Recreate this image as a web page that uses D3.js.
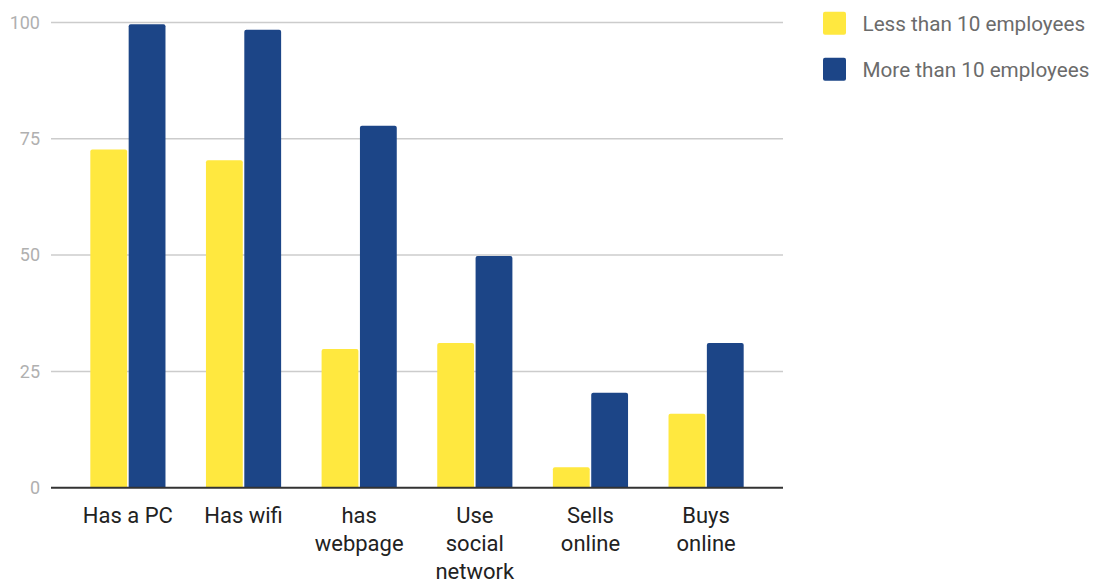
<!DOCTYPE html>
<html>
<head>
<meta charset="utf-8">
<script src="https://cdn.jsdelivr.net/npm/d3@7"></script>
<style>
  html, body { margin: 0; padding: 0; background: #fff; }
  svg { display: block; font-family: Roboto, "Noto Sans", sans-serif; }
</style>
</head>
<body>
<svg id="chart" width="1097" height="582"></svg>
<script>
// Share of companies using each digital tool, by company size (%)
const categories = [
  ["Has a PC"],
  ["Has wifi"],
  ["has", "webpage"],
  ["Use", "social", "network"],
  ["Sells", "online"],
  ["Buys", "online"]
];
const seriesNames = ["Less than 10 employees", "More than 10 employees"];
const lessThan10 = [72.7, 70.4, 29.8, 31.1, 4.4, 15.9];
const moreThan10 = [99.6, 98.4, 77.8, 49.8, 20.4, 31.1];
const yTicks = [0, 25, 50, 75, 100];
const colors = ["#ffe83f", "#1c4587"];

const svg = d3.select("#chart");
const plot = { left: 51, right: 783, top: 22.4, bottom: 487.7 };

const keys = categories.map(c => c.join(" "));
const rows = keys.map((k, i) => ({ key: k, values: [lessThan10[i], moreThan10[i]] }));

const x0 = d3.scaleBand()
  .domain(keys)
  .range([plot.left, plot.right])
  .paddingInner(0.35)
  .paddingOuter(0.34);

const x1 = d3.scaleBand()
  .domain([0, 1])
  .range([0, x0.bandwidth()])
  .paddingInner(0.04);

const y = d3.scaleLinear()
  .domain([0, 100])
  .range([plot.bottom, plot.top]);

// gridlines
svg.append("g")
  .selectAll("line")
  .data(yTicks.filter(t => t > 0))
  .join("line")
  .attr("x1", plot.left)
  .attr("x2", plot.right)
  .attr("y1", d => y(d))
  .attr("y2", d => y(d))
  .attr("stroke", "#cccccc")
  .attr("stroke-width", 1.5);

// y axis labels
const yAxis = svg.append("g")
  .attr("transform", `translate(${plot.left},0)`)
  .call(d3.axisLeft(y).tickValues(yTicks).tickSize(0).tickPadding(11));
yAxis.select(".domain").remove();
yAxis.selectAll("text")
  .attr("fill", "#b0b0b0")
  .style("font-size", "18px")
  .style("font-family", "Roboto, sans-serif");

// bars
const groups = svg.append("g")
  .selectAll("g")
  .data(rows)
  .join("g")
  .attr("transform", d => `translate(${x0(d.key)},0)`);

groups.selectAll("path")
  .data(d => d.values.map((v, i) => ({ i, v })))
  .join("path")
  .attr("fill", d => colors[d.i])
  .attr("d", d => {
    const x = x1(d.i), w = x1.bandwidth();
    const top = y(d.v), bot = y(0), r = 2;
    return `M${x},${bot}V${top + r}Q${x},${top} ${x + r},${top}H${x + w - r}Q${x + w},${top} ${x + w},${top + r}V${bot}Z`;
  });

// baseline
svg.append("line")
  .attr("x1", plot.left)
  .attr("x2", plot.right)
  .attr("y1", y(0))
  .attr("y2", y(0))
  .attr("stroke", "#333333")
  .attr("stroke-width", 2);

// category labels (multi-line)
const xl = svg.append("g")
  .selectAll("text")
  .data(categories)
  .join("text")
  .attr("x", (d, i) => x0(keys[i]) + x0.bandwidth() / 2)
  .attr("y", 522.5)
  .attr("text-anchor", "middle")
  .attr("fill", "#222222")
  .style("font-size", "22px");
xl.selectAll("tspan")
  .data(d => d)
  .join("tspan")
  .attr("x", function () { return d3.select(this.parentNode).attr("x"); })
  .attr("dy", (d, i) => i === 0 ? 0 : 28.2)
  .text(d => d);

// legend
const legend = svg.append("g")
  .selectAll("g")
  .data(seriesNames)
  .join("g")
  .attr("transform", (d, i) => `translate(823,${11.7 + i * 46})`);
legend.append("rect")
  .attr("width", 23)
  .attr("height", 23)
  .attr("rx", 2)
  .attr("fill", (d, i) => colors[i]);
legend.append("text")
  .attr("x", 39.5)
  .attr("y", 19.3)
  .attr("fill", "#6b6b6b")
  .style("font-size", "20.7px")
  .text(d => d);
</script>
</body>
</html>
